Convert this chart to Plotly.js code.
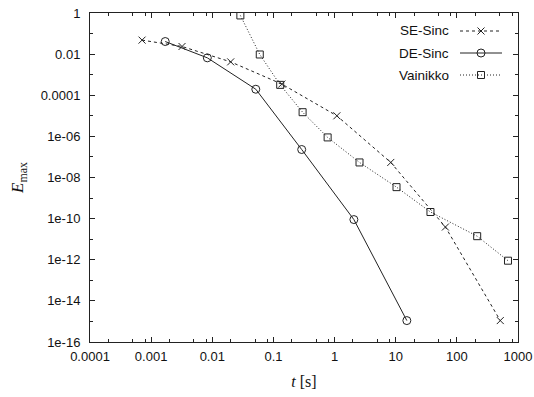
<!DOCTYPE html>
<html>
<head>
<meta charset="utf-8">
<script src="https://cdn.plot.ly/plotly-3.0.1.min.js"></script>
<style>html,body{margin:0;padding:0;background:#fff;}#chart{width:534px;height:397px;}</style>
</head>
<body>
<div id="chart"></div>
<script>
// ---- data ----
const seriesNames = ["SE-Sinc", "DE-Sinc", "Vainikko"];
const seX = [7.1e-4, 3.2e-3, 0.020, 0.137, 1.09, 8.3, 65, 513];
const seY = [0.048, 0.0235, 0.0042, 3.5e-4, 1.0e-5, 5.4e-8, 3.9e-11, 1.1e-15];
const deX = [1.7e-3, 8.3e-3, 0.0515, 0.29, 2.07, 15.2];
const deY = [0.041, 0.0066, 1.96e-4, 2.3e-7, 9e-11, 1.1e-15];
const vaX = [0.0288, 0.0598, 0.129, 0.30, 0.77, 2.56, 10.3, 37, 215, 686];
const vaY = [0.76, 0.0096, 3.2e-4, 1.5e-5, 8.9e-7, 5.4e-8, 3.4e-9, 2.1e-10, 1.4e-11, 9e-13];
const xTickVals = [1e-4, 1e-3, 1e-2, 1e-1, 1, 10, 100, 1000];
const xTickText = ["0.0001", "0.001", "0.01", "0.1", "1", "10", "100", "1000"];
const yTickVals = [1, 1e-2, 1e-4, 1e-6, 1e-8, 1e-10, 1e-12, 1e-14, 1e-16];
const yTickText = ["1", "0.01", "0.0001", "1e-06", "1e-08", "1e-10", "1e-12", "1e-14", "1e-16"];

// ---- layout helpers ----
const M = {l: 90, r: 16, t: 13, b: 55};
const W = 534 - M.l - M.r, H = 397 - M.t - M.b;
const px = x => (x - M.l) / W;
const py = y => (397 - M.b - y) / H;

const xMinor = [];
for (let e = -4; e < 3; e++) [2, 5, 8].forEach(k => xMinor.push(k * Math.pow(10, e)));
const yMinor = [];
for (let e = -15; e < 0; e += 2) yMinor.push(Math.pow(10, e));

const ink = '#222';
const styles = [
  {dash: '3px,3px', symbol: 'x-thin-open', size: 7},
  {dash: 'solid', symbol: 'circle-open', size: 8},
  {dash: '1px,2px', symbol: 'square-open', size: 7}
];
const xs = [seX, deX, vaX], ys = [seY, deY, vaY];

const traces = seriesNames.map((n, i) => ({
  x: xs[i], y: ys[i], name: n, type: 'scatter', mode: 'lines+markers',
  line: {color: ink, width: 1, dash: styles[i].dash},
  marker: {symbol: styles[i].symbol, size: styles[i].size, color: ink, line: {color: ink, width: 1}},
  showlegend: false
}));

// custom gnuplot-style legend (text left, sample right)
const annotations = [], shapes = [];
const rowY = [31, 53, 75];
seriesNames.forEach((n, i) => {
  annotations.push({xref: 'paper', yref: 'paper', x: px(451), y: py(rowY[i]), xanchor: 'right', yanchor: 'middle',
    text: n, showarrow: false, font: {family: 'Liberation Sans, Arial, sans-serif', size: 13.5, color: '#111'}});
  shapes.push({type: 'line', xref: 'paper', yref: 'paper', x0: px(460), x1: px(502), y0: py(rowY[i]), y1: py(rowY[i]),
    line: {color: ink, width: 1, dash: styles[i].dash}});
  const cx = px(481), cy = py(rowY[i]);
  if (i === 0) {
    shapes.push({type: 'line', xref: 'paper', yref: 'paper', xsizemode: 'pixel', ysizemode: 'pixel', xanchor: cx, yanchor: cy,
      x0: -3.5, x1: 3.5, y0: -3.5, y1: 3.5, line: {color: ink, width: 1}});
    shapes.push({type: 'line', xref: 'paper', yref: 'paper', xsizemode: 'pixel', ysizemode: 'pixel', xanchor: cx, yanchor: cy,
      x0: -3.5, x1: 3.5, y0: 3.5, y1: -3.5, line: {color: ink, width: 1}});
  } else if (i === 1) {
    shapes.push({type: 'circle', xref: 'paper', yref: 'paper', xsizemode: 'pixel', ysizemode: 'pixel', xanchor: cx, yanchor: cy,
      x0: -4, x1: 4, y0: -4, y1: 4, line: {color: ink, width: 1}});
  } else {
    shapes.push({type: 'rect', xref: 'paper', yref: 'paper', xsizemode: 'pixel', ysizemode: 'pixel', xanchor: cx, yanchor: cy,
      x0: -3.5, x1: 3.5, y0: -3.5, y1: 3.5, line: {color: ink, width: 1}});
  }
});

const tickFont = {family: 'Liberation Sans, Arial, sans-serif', size: 13, color: '#111'};
const layout = {
  width: 534, height: 397,
  margin: M,
  paper_bgcolor: '#fff', plot_bgcolor: '#fff',
  showlegend: false,
  xaxis: {
    type: 'log', range: [-4, 3], tickmode: 'array', tickvals: xTickVals, ticktext: xTickText,
    ticks: 'inside', ticklen: 5, tickwidth: 1, tickcolor: ink, showline: true, linecolor: ink, linewidth: 1,
    mirror: 'allticks', showgrid: false, zeroline: false, tickfont: tickFont, ticklabelstandoff: 2,
    minor: {tickmode: 'array', tickvals: xMinor, ticks: 'inside', ticklen: 3, tickcolor: ink, tickwidth: 1, showgrid: false},
    title: {text: '<i>t</i> [s]', font: {family: 'Liberation Serif, Times New Roman, serif', size: 16, color: '#111'}, standoff: 13}
  },
  yaxis: {
    type: 'log', range: [-16, 0], tickmode: 'array', tickvals: yTickVals, ticktext: yTickText,
    ticks: 'inside', ticklen: 5, tickwidth: 1, tickcolor: ink, showline: true, linecolor: ink, linewidth: 1,
    mirror: 'allticks', showgrid: false, zeroline: false, tickfont: tickFont, ticklabelstandoff: 6,
    minor: {tickmode: 'array', tickvals: yMinor, ticks: 'inside', ticklen: 3, tickcolor: ink, tickwidth: 1, showgrid: false},
    title: {text: '<i>E</i><sub>max</sub>', font: {family: 'Liberation Serif, Times New Roman, serif', size: 17, color: '#111'}, standoff: 12}
  },
  annotations: annotations,
  shapes: shapes
};

Plotly.newPlot('chart', traces, layout, {staticPlot: true, displayModeBar: false});
</script>
</body>
</html>
